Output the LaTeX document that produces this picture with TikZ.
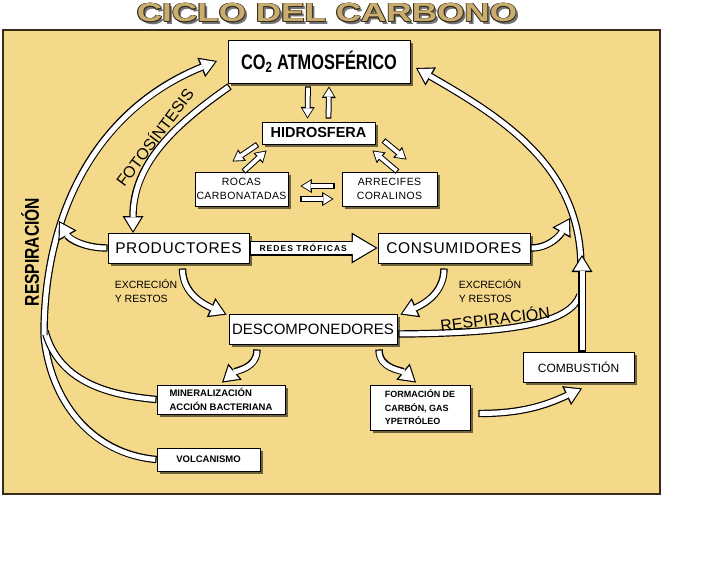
\documentclass[tikz,border=0pt]{standalone}
\usepackage{fontspec}
\setmainfont{Liberation Sans}
\newfontfamily\condfont[FakeStretch=0.78]{Liberation Sans}
\newfontfamily\widefont[FakeStretch=1.35]{Liberation Sans}
\newfontfamily\spacedfont[LetterSpace=4]{Liberation Sans}
\newfontfamily\spreadfont[LetterSpace=12]{Liberation Sans}
\usepackage{tikz}
\usetikzlibrary{
  arrows.meta,
  positioning,
  calc,
  shadows
}
\definecolor{PanelYellow}{RGB}{245,217,138}
\definecolor{TitleTan}{RGB}{200,172,112}
\definecolor{EdgeBrown}{RGB}{55,45,25}
\tikzset{
  cyclebox/.style={draw=black,line width=0.9pt,fill=white,inner sep=0pt,align=center,drop shadow={shadow xshift=3pt,shadow yshift=-3pt,fill=black,opacity=0.55}},
  bigcycle/.style={cyclebox,font=\spacedfont\fontsize{15.5}{17}\selectfont},
  smallcycle/.style={cyclebox,font=\spacedfont\fontsize{10.5}{13.5}\selectfont},
  notecycle/.style={cyclebox,align=left,font=\bfseries\fontsize{9.5}{13.5}\selectfont},
  flowarrow/.style={draw=white,line width=5pt,shorten <=1.2pt,shorten >=2.1pt,-{Triangle[length=13.5pt,width=16.5pt,line width=0pt]},preaction={draw=black,line width=7.4pt,shorten <=0pt,shorten >=0pt,-{Triangle[length=17pt,width=21pt,line width=0pt]}}},
  flowline/.style={draw=white,line width=5pt,shorten <=1.2pt,preaction={draw=black,line width=7.4pt,shorten <=0pt}},
  thinflow/.style={draw=white,line width=3.8pt,shorten <=1.1pt,shorten >=1.7pt,-{Triangle[length=8.5pt,width=10.5pt,line width=0pt]},preaction={draw=black,line width=5.8pt,shorten <=0pt,shorten >=0pt,-{Triangle[length=11.5pt,width=14pt,line width=0pt]}}},
  trophicflow/.style={draw=white,line width=12.5pt,shorten <=1.2pt,shorten >=2.2pt,-{Triangle[length=22.5pt,width=26.5pt,line width=0pt]},preaction={draw=black,line width=15pt,shorten <=0pt,shorten >=0pt,-{Triangle[length=26pt,width=31pt,line width=0pt]}}},
  flowtext/.style={inner sep=0pt,text=black},
  titletext/.style={inner sep=0pt,font=\widefont\bfseries\fontsize{26}{28}\selectfont}
}

\begin{document}
\begin{tikzpicture}[x=1pt,y=-1pt]
\useasboundingbox (0,0) rectangle (728,563);
\fill[white] (0,0) rectangle (728,563);
\draw[fill=PanelYellow,draw=EdgeBrown,line width=1.2pt] (3,30) rectangle (660,494);

% title
\coordinate (titlepos) at (327,13);
\node[titletext,text=black!55] (titleshadow) at ($(titlepos)+(2.5,2.5)$) {CICLO DEL CARBONO};
\foreach \dx/\dy [count=\k] in {0.9/0,-0.9/0,0/0.9,0/-0.9,0.65/0.65,-0.65/0.65,0.65/-0.65,-0.65/-0.65}
  \node[titletext,text=EdgeBrown] (titleedge\k) at ($(titlepos)+(\dx,\dy)$) {CICLO DEL CARBONO};
\node[titletext,text=TitleTan] (title) at (titlepos) {CICLO DEL CARBONO};

% boxes
\node[cyclebox,minimum width=182pt,minimum height=43pt,font=\condfont\bfseries\fontsize{21}{24}\selectfont] (co2) at (319,61.5) {CO\textsubscript{2} ATMOSFÉRICO};
\node[cyclebox,minimum width=113pt,minimum height=22pt,font=\bfseries\fontsize{14.5}{16}\selectfont] (hidro) at (318.5,133) {HIDROSFERA};
\node[smallcycle,minimum width=93pt,minimum height=34pt] (rocas) at (241.5,189) {ROCAS\\CARBONATADAS};
\node[smallcycle,minimum width=95pt,minimum height=34pt] (arrecifes) at (389.5,189) {ARRECIFES\\CORALINOS};
\node[bigcycle,minimum width=141pt,minimum height=30pt] (prod) at (178.5,248) {PRODUCTORES};
\node[bigcycle,minimum width=152pt,minimum height=30pt] (cons) at (454,248) {CONSUMIDORES};
\node[cyclebox,minimum width=168pt,minimum height=30pt,font=\fontsize{15}{17}\selectfont] (desc) at (313,329) {DESCOMPONEDORES};
\node[notecycle,minimum width=128pt,minimum height=29pt] (miner) at (221,399.5) {MINERALIZACIÓN\\ACCIÓN BACTERIANA};
\node[notecycle,minimum width=103pt,minimum height=23pt] (volc) at (208.5,459.5) {VOLCANISMO};
\node[notecycle,minimum width=100pt,minimum height=45pt,font=\bfseries\fontsize{9}{13.5}\selectfont] (formac) at (420,407.5) {FORMACIÓN DE\\CARBÓN, GAS\\YPETRÓLEO};
\node[cyclebox,minimum width=111pt,minimum height=30pt,font=\fontsize{12}{14}\selectfont] (combust) at (578.5,367) {COMBUSTIÓN};

% free ends of the big arcs
\coordinate (leftjoin) at (44,335);
\coordinate (lefthead) at (217,61);
\coordinate (prodhead) at (59,221);
\coordinate (fotohead) at (133,233);
\coordinate (rightjoin) at (581,268);
\coordinate (righthead) at (416,68);
\coordinate (conshead) at (570,218);
\coordinate (combhead) at (582,255);

% left side: respiration back to the atmosphere
\draw[flowline] (volc.west) to[out=175,in=-85] (leftjoin);
\draw[flowline] (miner.west) to[out=175,in=-75] ($(leftjoin)+(1,-4)$);
\draw[flowarrow,shorten <=0pt] (leftjoin) to[out=90,in=202] (lefthead);
\draw[flowarrow] (prod.west) to[out=180,in=-60] (prodhead);
\draw[flowarrow] ($(co2.south west)+(2,3)$) to[out=215,in=90] (fotohead);

% right side
\draw[flowarrow,shorten <=0pt] (rightjoin) to[out=90,in=-30] (righthead);
\draw[flowline] ($(desc.east)+(1,5)$) .. controls (520,333) and (570,322) .. ($(rightjoin)+(-1,27)$);
\draw[flowarrow] ($(combust.north)+(3.5,0)$) -- (combhead);
\draw[flowarrow] (cons.east) to[out=0,in=-120] (conshead);

% atmosphere, hydrosphere and rocks
\draw[thinflow] ($(co2.south)+(-11,3)$) -- ($(hidro.north)+(-11,-3)$);
\draw[thinflow] ($(hidro.north)+(10,-3)$) -- ($(co2.south)+(10,3)$);
\draw[thinflow] ($(hidro.south west)+(-4,0)$) -- ($(rocas.north)+(-9,-10)$);
\draw[thinflow] ($(rocas.north)+(2,0)$) -- ($(hidro.south west)+(5,6)$);
\draw[thinflow] ($(arrecifes.north)+(8,0)$) -- ($(hidro.south east)+(-3,6)$);
\draw[thinflow] ($(hidro.south east)+(8,-4)$) -- ($(arrecifes.north)+(17,-12)$);
\draw[thinflow] ($(arrecifes.west)+(-7,-3)$) -- ($(rocas.east)+(12,-3)$);
\draw[thinflow] ($(rocas.east)+(12,10)$) -- ($(arrecifes.west)+(-8,10)$);

% food web and decomposition
\draw[trophicflow] (prod.east) -- node[flowtext,pos=0.42,font=\spreadfont\bfseries\fontsize{8.5}{10}\selectfont] (redes) {REDES TRÓFICAS} (cons.west);
\draw[flowarrow] ($(prod.south)+(4,5)$) to[out=-90,in=156] ($(desc.north west)+(-2,1)$);
\draw[flowarrow] ($(cons.south)+(-10,5)$) to[out=-90,in=24] ($(desc.north east)+(3,1)$);
\draw[flowarrow] ($(desc.south)+(-56,5)$) to[out=-90,in=40] ($(miner.north)+(1,-2)$);
\draw[flowarrow] ($(desc.south)+(66,5)$) to[out=-90,in=140] ($(formac.north)+(-4,-2)$);
\draw[flowarrow] ($(formac.east)+(8,6)$) to[out=0,in=205] ($(combust.south)+(3.5,6)$);

% labels
\node[flowtext,rotate=53,font=\fontsize{16}{18}\selectfont] (fotolabel) at (154,137) {FOTOSÍNTESIS};
\node[flowtext,rotate=90,font=\condfont\bfseries\fontsize{20}{22}\selectfont] (respleft) at (30,252) {RESPIRACIÓN};
\node[flowtext,rotate=7,font=\fontsize{16}{18}\selectfont] (respright) at (495,318) {RESPIRACIÓN};
\node[flowtext,align=left,font=\fontsize{10.5}{13.5}\selectfont] (excrleft) at (146,291) {EXCRECIÓN\\Y RESTOS};
\node[flowtext,align=left,font=\fontsize{10.5}{13.5}\selectfont] (excrright) at (490,291) {EXCRECIÓN\\Y RESTOS};
\end{tikzpicture}
\end{document}
